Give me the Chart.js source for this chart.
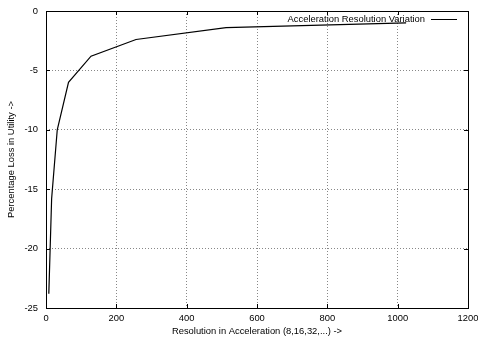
<!DOCTYPE html>
<html>
<head>
<meta charset="utf-8">
<script src="https://cdn.jsdelivr.net/npm/chart.js@4/dist/chart.umd.min.js"></script>
<style>
  html, body { margin: 0; padding: 0; background: #fff; }
  #wrap { width: 478px; height: 339px; }
</style>
</head>
<body>
<div id="wrap"><canvas id="myChart" width="478" height="339"></canvas></div>
<script>
// resolution values and loss
const resolution = [8, 16, 32, 64, 128, 256, 512, 1024];
const loss = [-23.8, -15.8, -10.0, -6.0, -3.8, -2.4, -1.4, -1.0];
const xTicks = [0, 200, 400, 600, 800, 1000, 1200];
const yTicks = [-25, -20, -15, -10, -5, 0];
const seriesName = 'Acceleration Resolution Variation';

const font = { family: "'Liberation Sans', Arial, sans-serif", size: 9.4 };

// gnuplot style frame, inward ticks and key
const framePlugin = {
  id: 'frame',
  afterDatasetsDraw(chart) {
    const { ctx, chartArea: a, scales } = chart;
    ctx.save();
    ctx.strokeStyle = '#000';
    ctx.lineWidth = 1;
    ctx.strokeRect(a.left + 0.5, a.top + 0.5, a.right - a.left, a.bottom - a.top);
    ctx.beginPath();
    xTicks.forEach(v => {
      const x = Math.round(scales.x.getPixelForValue(v)) + 0.5;
      ctx.moveTo(x, a.bottom); ctx.lineTo(x, a.bottom - 4);
      ctx.moveTo(x, a.top); ctx.lineTo(x, a.top + 4);
    });
    yTicks.forEach(v => {
      const y = Math.round(scales.y.getPixelForValue(v)) + 0.5;
      ctx.moveTo(a.left, y); ctx.lineTo(a.left + 4, y);
      ctx.moveTo(a.right, y); ctx.lineTo(a.right - 4, y);
    });
    ctx.stroke();

    // key
    ctx.font = `${font.size}px ${font.family}`;
    ctx.fillStyle = '#000';
    ctx.textAlign = 'right';
    ctx.textBaseline = 'middle';
    ctx.fillText(seriesName, a.right - 43, a.top + 8);
    ctx.beginPath();
    ctx.moveTo(a.right - 37, a.top + 8.5);
    ctx.lineTo(a.right - 11, a.top + 8.5);
    ctx.stroke();
    ctx.restore();
  }
};

new Chart(document.getElementById('myChart').getContext('2d'), {
  type: 'line',
  data: {
    datasets: [{
      label: seriesName,
      data: resolution.map((r, i) => ({ x: r, y: loss[i] })),
      borderColor: '#000',
      borderWidth: 1.2,
      pointRadius: 0,
      tension: 0,
      fill: false
    }]
  },
  options: {
    responsive: false,
    animation: false,
    layout: { padding: { left: 0, right: 10, top: 11, bottom: 0 } },
    plugins: {
      legend: { display: false },
      tooltip: { enabled: false }
    },
    scales: {
      x: {
        type: 'linear',
        min: 0,
        max: 1200,
        afterBuildTicks: s => { s.ticks = xTicks.map(v => ({ value: v })); },
        afterFit: s => { s.height = 31; s.paddingLeft = 0; s.paddingRight = 0; },
        ticks: { color: '#000', font: font, padding: 5, maxRotation: 0, callback: v => String(v) },
        grid: { color: '#888', drawTicks: false, lineWidth: 1 },
        border: { display: false, dash: [1, 2] },
        title: {
          display: true,
          text: 'Resolution in Acceleration (8,16,32,...) ->',
          color: '#000',
          font: font,
          padding: { top: 2, bottom: 2 }
        }
      },
      y: {
        min: -25,
        max: 0,
        afterBuildTicks: s => { s.ticks = yTicks.map(v => ({ value: v })); },
        afterFit: s => { s.width = 46; s.paddingTop = 0; s.paddingBottom = 0; },
        ticks: { color: '#000', font: font, padding: 8, callback: v => String(v) },
        grid: { color: '#888', drawTicks: false, lineWidth: 1 },
        border: { display: false, dash: [1, 2] },
        title: {
          display: true,
          text: 'Percentage Loss in Utility ->',
          color: '#000',
          font: font,
          padding: { top: 6, bottom: 0 }
        }
      }
    }
  },
  plugins: [framePlugin]
});
</script>
</body>
</html>
